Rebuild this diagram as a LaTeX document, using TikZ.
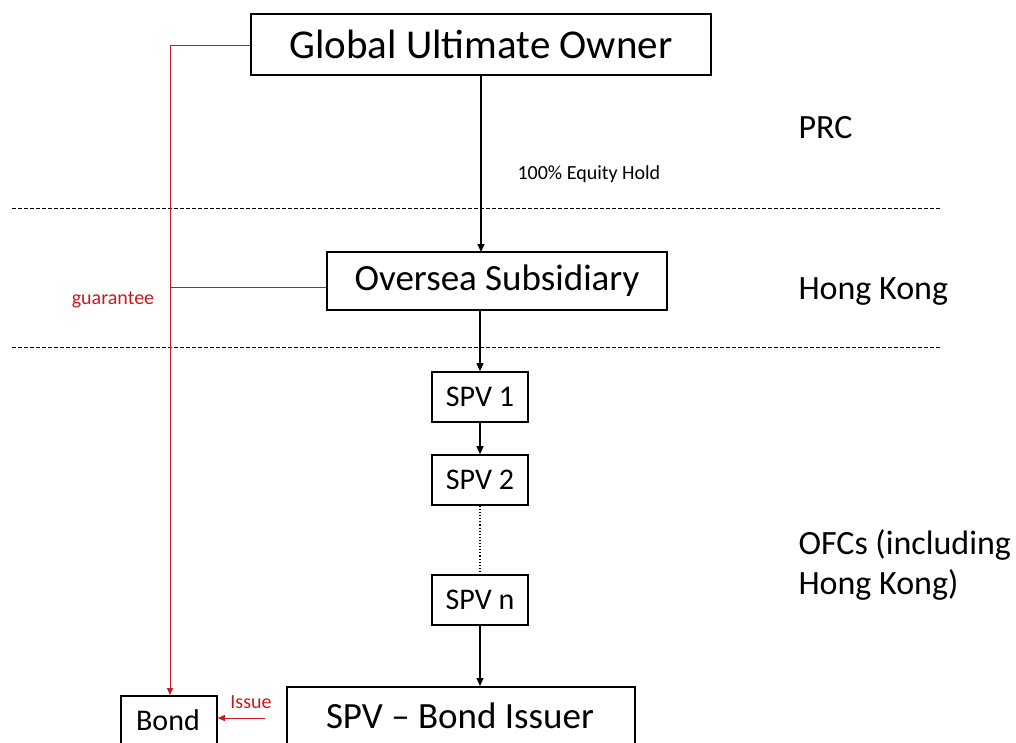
\documentclass[tikz,border=0pt]{standalone}
\usepackage{fontspec}
\setmainfont{Carlito}
\usetikzlibrary{arrows.meta}
\definecolor{gred}{RGB}{204,24,30}
\tikzset{
  box/.style={draw=black, line width=1.6pt, fill=white, inner sep=0pt},
  flow/.style={draw=black, line width=1.1pt, -{Triangle[length=8pt,width=7pt]}},
  redline/.style={draw=gred, line width=0.8pt},
  redarrow/.style={redline, -{Triangle[length=7pt,width=6pt]}},
  sep/.style={draw=black, line width=1pt, dash pattern=on 4pt off 2pt},
  region/.style={anchor=west, align=left, font=\fontsize{34}{40}\selectfont},
  small/.style={font=\fontsize{20}{24}\selectfont}
}
\begin{document}
\begin{tikzpicture}[x=1pt,y=-1pt]
\useasboundingbox (0,0) rectangle (1016,742);

% jurisdiction separators
\draw[sep] (12,208) -- (942,208);
\draw[sep] (12,347) -- (942,347);

% entities
\node[box, minimum width=460pt, minimum height=61pt, font=\fontsize{41}{48}\selectfont] (guo) at (481,44.5) {Global Ultimate Owner};
\node[box, minimum width=340pt, minimum height=58pt, font=\fontsize{37}{44}\selectfont] (sub) at (497,281) {Oversea Subsidiary};
\node[box, minimum width=96pt, minimum height=50pt, font=\fontsize{30}{36}\selectfont] (spv1) at (480,397) {SPV 1};
\node[box, minimum width=96pt, minimum height=50pt, font=\fontsize{30}{36}\selectfont] (spv2) at (480,480) {SPV 2};
\node[box, minimum width=96pt, minimum height=50pt, font=\fontsize{30}{36}\selectfont] (spvn) at (480,600) {SPV n};
\node[box, minimum width=348pt, minimum height=64pt, anchor=north] (iss) at (461,686) {};
\node[font=\fontsize{37}{44}\selectfont] (isst) at (460,716) {SPV -- Bond Issuer};
\node[box, minimum width=96pt, minimum height=56pt, anchor=north] (bond) at (169,695) {};
\node[font=\fontsize{30}{36}\selectfont] (bondt) at (168,720) {Bond};

% ownership chain
\coordinate (c1) at (481,75);
\coordinate (c2) at (481,252);
\draw[flow] (c1) -- (c2);
\node[anchor=west, small] (eq) at (514,174) {100\% Equity Hold};
\draw[flow] (sub.south -| spv1) -- (spv1.north);
\draw[flow] (spv1) -- (spv2);
\draw[black, line width=1.1pt, dotted] (spv2) -- (spvn);
\draw[flow] (spvn) -- (iss.north -| spvn);

% guarantee and issuance
\coordinate (g1) at (170,45);
\coordinate (g2) at (170,287);
\coordinate (g3) at (170,695);
\draw[redline] (guo.west |- g1) -- (g1);
\draw[redline] (sub.west |- g2) -- (g2);
\draw[redarrow] (g1) -- (g3);
\node[text=gred, small] (gl) at (113,300) {guarantee};
\coordinate (i1) at (265,718);
\draw[redarrow] (i1) -- (bond.east |- i1);
\node[text=gred, small] (il) at (251,702) {Issue};

% jurisdiction labels
\node[region] (prc) at (795,128) {PRC};
\node[region] (hk) at (795,292) {Hong Kong};
\node[region] (ofc) at (795,565) {OFCs (including\\Hong Kong)};
\end{tikzpicture}
\end{document}
